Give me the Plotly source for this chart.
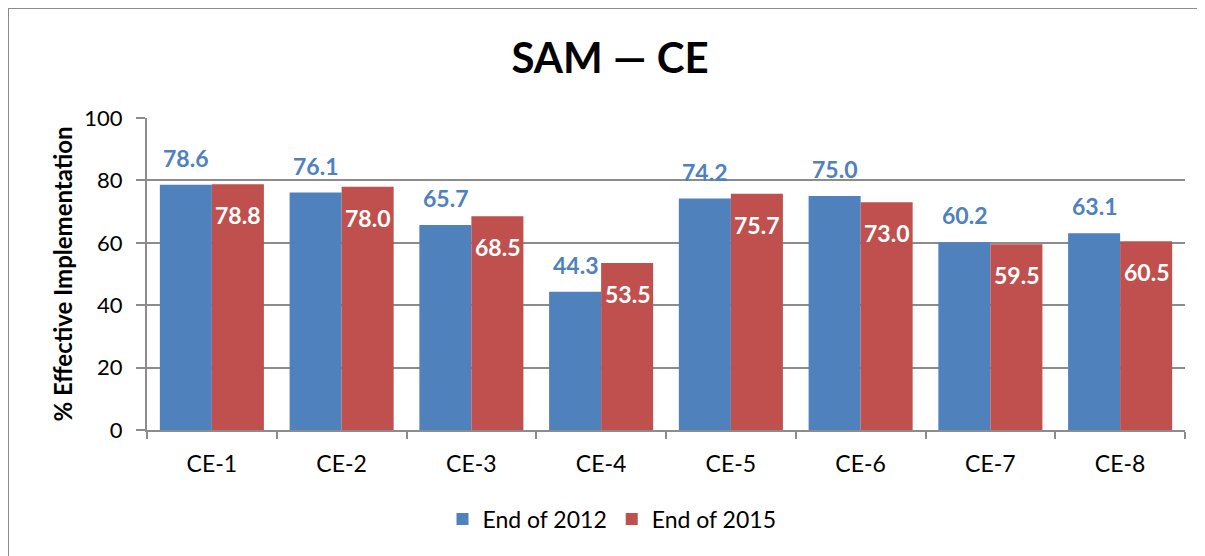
import plotly.graph_objects as go

categories = ["CE-1", "CE-2", "CE-3", "CE-4", "CE-5", "CE-6", "CE-7", "CE-8"]
end_2012 = [78.6, 76.1, 65.7, 44.3, 74.2, 75.0, 60.2, 63.1]
end_2015 = [78.8, 78.0, 68.5, 53.5, 75.7, 73.0, 59.5, 60.5]
y_ticks = [0, 20, 40, 60, 80, 100]

BLUE = "#4F81BD"
RED = "#C0504D"
GRID = "#8C8C8C"
FONT = "Lato, Open Sans, sans-serif"

# page has an 8px body margin: work in screen pixels, convert to figure pixels
OFF = 8
W, H = 1205 - OFF, 556 - OFF
L, R, T, B = 147 - OFF, 20, 118 - OFF, H - (430 - OFF)
pw, ph = W - L - R, H - T - B

def px_x(p):
    return (p - OFF - L) / pw

def px_y(p):
    return (H - B - (p - OFF)) / ph

fig = go.Figure()
fig.add_trace(go.Bar(x=categories, y=end_2012, name="End of 2012",
                     marker=dict(color=BLUE, line=dict(width=0))))
fig.add_trace(go.Bar(x=categories, y=end_2015, name="End of 2015",
                     marker=dict(color=RED, line=dict(width=0))))

ann = []
for c, v in zip(categories, end_2012):
    ann.append(dict(x=c, y=v, text=f"{v:.1f}", showarrow=False, xshift=-26, yshift=27,
                    font=dict(family=FONT, size=23, color=BLUE, weight="bold")))
for c, v in zip(categories, end_2015):
    ann.append(dict(x=c, y=v, text=f"{v:.1f}", showarrow=False, xshift=26, yshift=-31,
                    font=dict(family=FONT, size=23, color="white", weight="bold")))

fig.update_layout(
    width=W, height=H,
    margin=dict(l=L, r=R, t=T, b=B),
    paper_bgcolor="white", plot_bgcolor="white",
    barmode="group", bargap=0.198, bargroupgap=0,
    title=dict(text="SAM — CE", x=px_x(610), xref="paper", xanchor="center",
               y=1 - (58 - OFF) / H, yanchor="middle",
               font=dict(family=FONT, size=42, color="black", weight="bold")),
    font=dict(family=FONT, color="black"),
    showlegend=True,
    legend=dict(orientation="h", x=px_x(612), xanchor="center", y=px_y(519), yanchor="middle",
                font=dict(family=FONT, size=23, color="black"),
                itemwidth=30, traceorder="normal"),
    annotations=ann,
    shapes=[dict(type="rect", xref="paper", yref="paper",
                 x0=px_x(OFF), x1=px_x(1220), y0=px_y(570), y1=px_y(OFF),
                 line=dict(color="#8C8C8C", width=2), layer="below")],
)
fig.update_xaxes(
    showline=True, linecolor=GRID, linewidth=2,
    ticks="outside", tickson="boundaries", ticklen=7, tickcolor=GRID, tickwidth=2,
    tickfont=dict(family=FONT, size=23, color="black"),
    ticklabelstandoff=12,
    showgrid=False,
)
fig.update_yaxes(
    range=[0, 100], tickvals=y_ticks,
    showline=True, linecolor=GRID, linewidth=2,
    showgrid=True, gridcolor=GRID, gridwidth=2,
    ticks="outside", ticklen=9, tickcolor=GRID, tickwidth=2,
    tickfont=dict(family=FONT, size=22, color="black"),
    ticklabelstandoff=9,
    title=dict(text="% Effective Implementation", standoff=5,
               font=dict(family=FONT, size=24, color="black", weight="bold")),
    zeroline=False,
)

fig.write_html("out.html")
